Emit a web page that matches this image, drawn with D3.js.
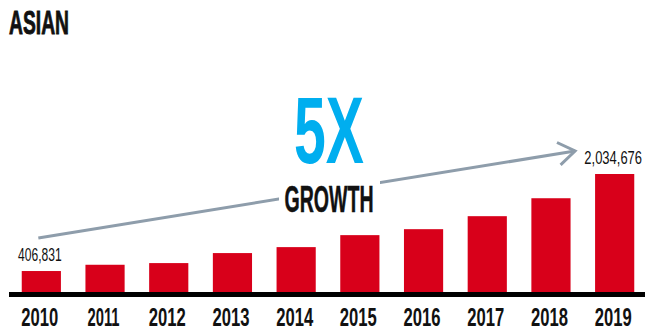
<!DOCTYPE html>
<html>
<head>
<meta charset="utf-8">
<script src="https://cdn.jsdelivr.net/npm/d3@7"></script>
<style>
  body { margin: 0; background: #fff; }
  svg { display: block; }
</style>
</head>
<body>
<div id="chart"></div>
<script>
// data
var years = ["2010", "2011", "2012", "2013", "2014", "2015", "2016", "2017", "2018", "2019"];
var values = [406831, 512000, 540000, 708000, 808000, 1009000, 1109000, 1327000, 1628000, 2034676];
var valueLabels = ["406,831", "2,034,676"];

var width = 645, height = 333;
var baseY = 292;
var font = "'Liberation Sans', Arial, sans-serif";

var svg = d3.select("#chart").append("svg")
    .attr("width", width)
    .attr("height", height);

var x = d3.scaleBand()
    .domain(years)
    .range([9, 647])
    .paddingInner(0.385)
    .paddingOuter(0.2);

var y = d3.scaleLinear()
    .domain([55000, d3.max(values)])
    .range([baseY, 174]);

// the original uses a condensed face: squeeze each text horizontally
// to a target width by scaling it around its anchor point
function squeeze(sel, px, py, w) {
    var natural = sel.node().getComputedTextLength();
    sel.attr("x", 0).attr("y", 0)
        .attr("transform", "translate(" + px + "," + py + ") scale(" + (w / natural) + ",1)");
}

// width of a string in the condensed face: "1" and "," are narrow
function condensedWidth(s, wide, one, comma) {
    var w = 0;
    for (var i = 0; i < s.length; i++) {
        if (s[i] == "1") w += one;
        else if (s[i] == ",") w += comma;
        else w += wide;
    }
    return w;
}

// title
svg.append("text")
    .attr("font-family", font)
    .attr("font-weight", "bold")
    .attr("font-size", 33.5)
    .attr("fill", "#111")
    .attr("stroke", "#111")
    .attr("stroke-width", 0.9)
    .text("ASIAN")
    .call(squeeze, 9, 34, 60);

// bars
svg.selectAll("rect.bar")
    .data(values)
    .enter().append("rect")
    .attr("class", "bar")
    .attr("x", function(d, i) { return x(years[i]); })
    .attr("y", function(d) { return y(d); })
    .attr("width", x.bandwidth())
    .attr("height", function(d) { return baseY - y(d); })
    .attr("fill", "#D8001A");

// baseline
svg.append("rect")
    .attr("x", 9)
    .attr("y", baseY)
    .attr("width", width - 9)
    .attr("height", 5)
    .attr("fill", "#000");

// year labels
svg.selectAll("text.year")
    .data(years)
    .enter().append("text")
    .attr("class", "year")
    .attr("text-anchor", "middle")
    .attr("font-family", font)
    .attr("font-weight", "bold")
    .attr("font-size", 26)
    .attr("fill", "#111")
    .text(function(d) { return d; })
    .each(function(d) {
        d3.select(this).call(squeeze, x(d) + x.bandwidth() / 2 - 1.5, 326, condensedWidth(d, 10.5, 5.5, 3.5));
    });

// first / last value labels
var ends = [0, values.length - 1];
svg.selectAll("text.val")
    .data(ends)
    .enter().append("text")
    .attr("class", "val")
    .attr("text-anchor", "middle")
    .attr("font-family", font)
    .attr("font-size", 18.5)
    .attr("fill", "#111")
    .text(function(i, k) { return valueLabels[k]; })
    .each(function(i, k) {
        d3.select(this).call(squeeze, x(years[i]) + x.bandwidth() / 2 - 1.5, y(values[i]) - 10,
            condensedWidth(valueLabels[k], 7.3, 3.8, 3.3));
    });

// growth arrow
var x0 = x(years[0]) + x.bandwidth() / 2 - 3,
    y0 = y(values[0]) - 33,
    x1 = x(years[9]) - 20,
    y1 = y(values[9]) - 23;
var ang = Math.atan2(y1 - y0, x1 - x0);
var headLen = 20, headAng = 0.6;

var arrow = svg.append("g")
    .attr("stroke", "#8E9DAB")
    .attr("stroke-width", 3)
    .attr("fill", "none");

arrow.append("line")
    .attr("x1", x0).attr("y1", y0)
    .attr("x2", x1).attr("y2", y1);

arrow.append("path")
    .attr("d", "M" + (x1 - headLen * Math.cos(ang - headAng)) + "," + (y1 - headLen * Math.sin(ang - headAng)) +
               "L" + x1 + "," + y1 +
               "L" + (x1 - headLen * Math.cos(ang + headAng)) + "," + (y1 - headLen * Math.sin(ang + headAng)));

// gap in the arrow behind GROWTH
svg.append("rect")
    .attr("x", 279)
    .attr("y", 172)
    .attr("width", 101)
    .attr("height", 44)
    .attr("fill", "#fff");

svg.append("text")
    .attr("text-anchor", "middle")
    .attr("font-family", font)
    .attr("font-weight", "bold")
    .attr("font-size", 95)
    .attr("fill", "#00AEEF")
    .text("5X")
    .call(squeeze, 329, 163, 70);

svg.append("text")
    .attr("text-anchor", "middle")
    .attr("font-family", font)
    .attr("font-weight", "bold")
    .attr("font-size", 36)
    .attr("fill", "#111")
    .attr("stroke", "#111")
    .attr("stroke-width", 0.5)
    .text("GROWTH")
    .call(squeeze, 329, 212, 89);
</script>
</body>
</html>
